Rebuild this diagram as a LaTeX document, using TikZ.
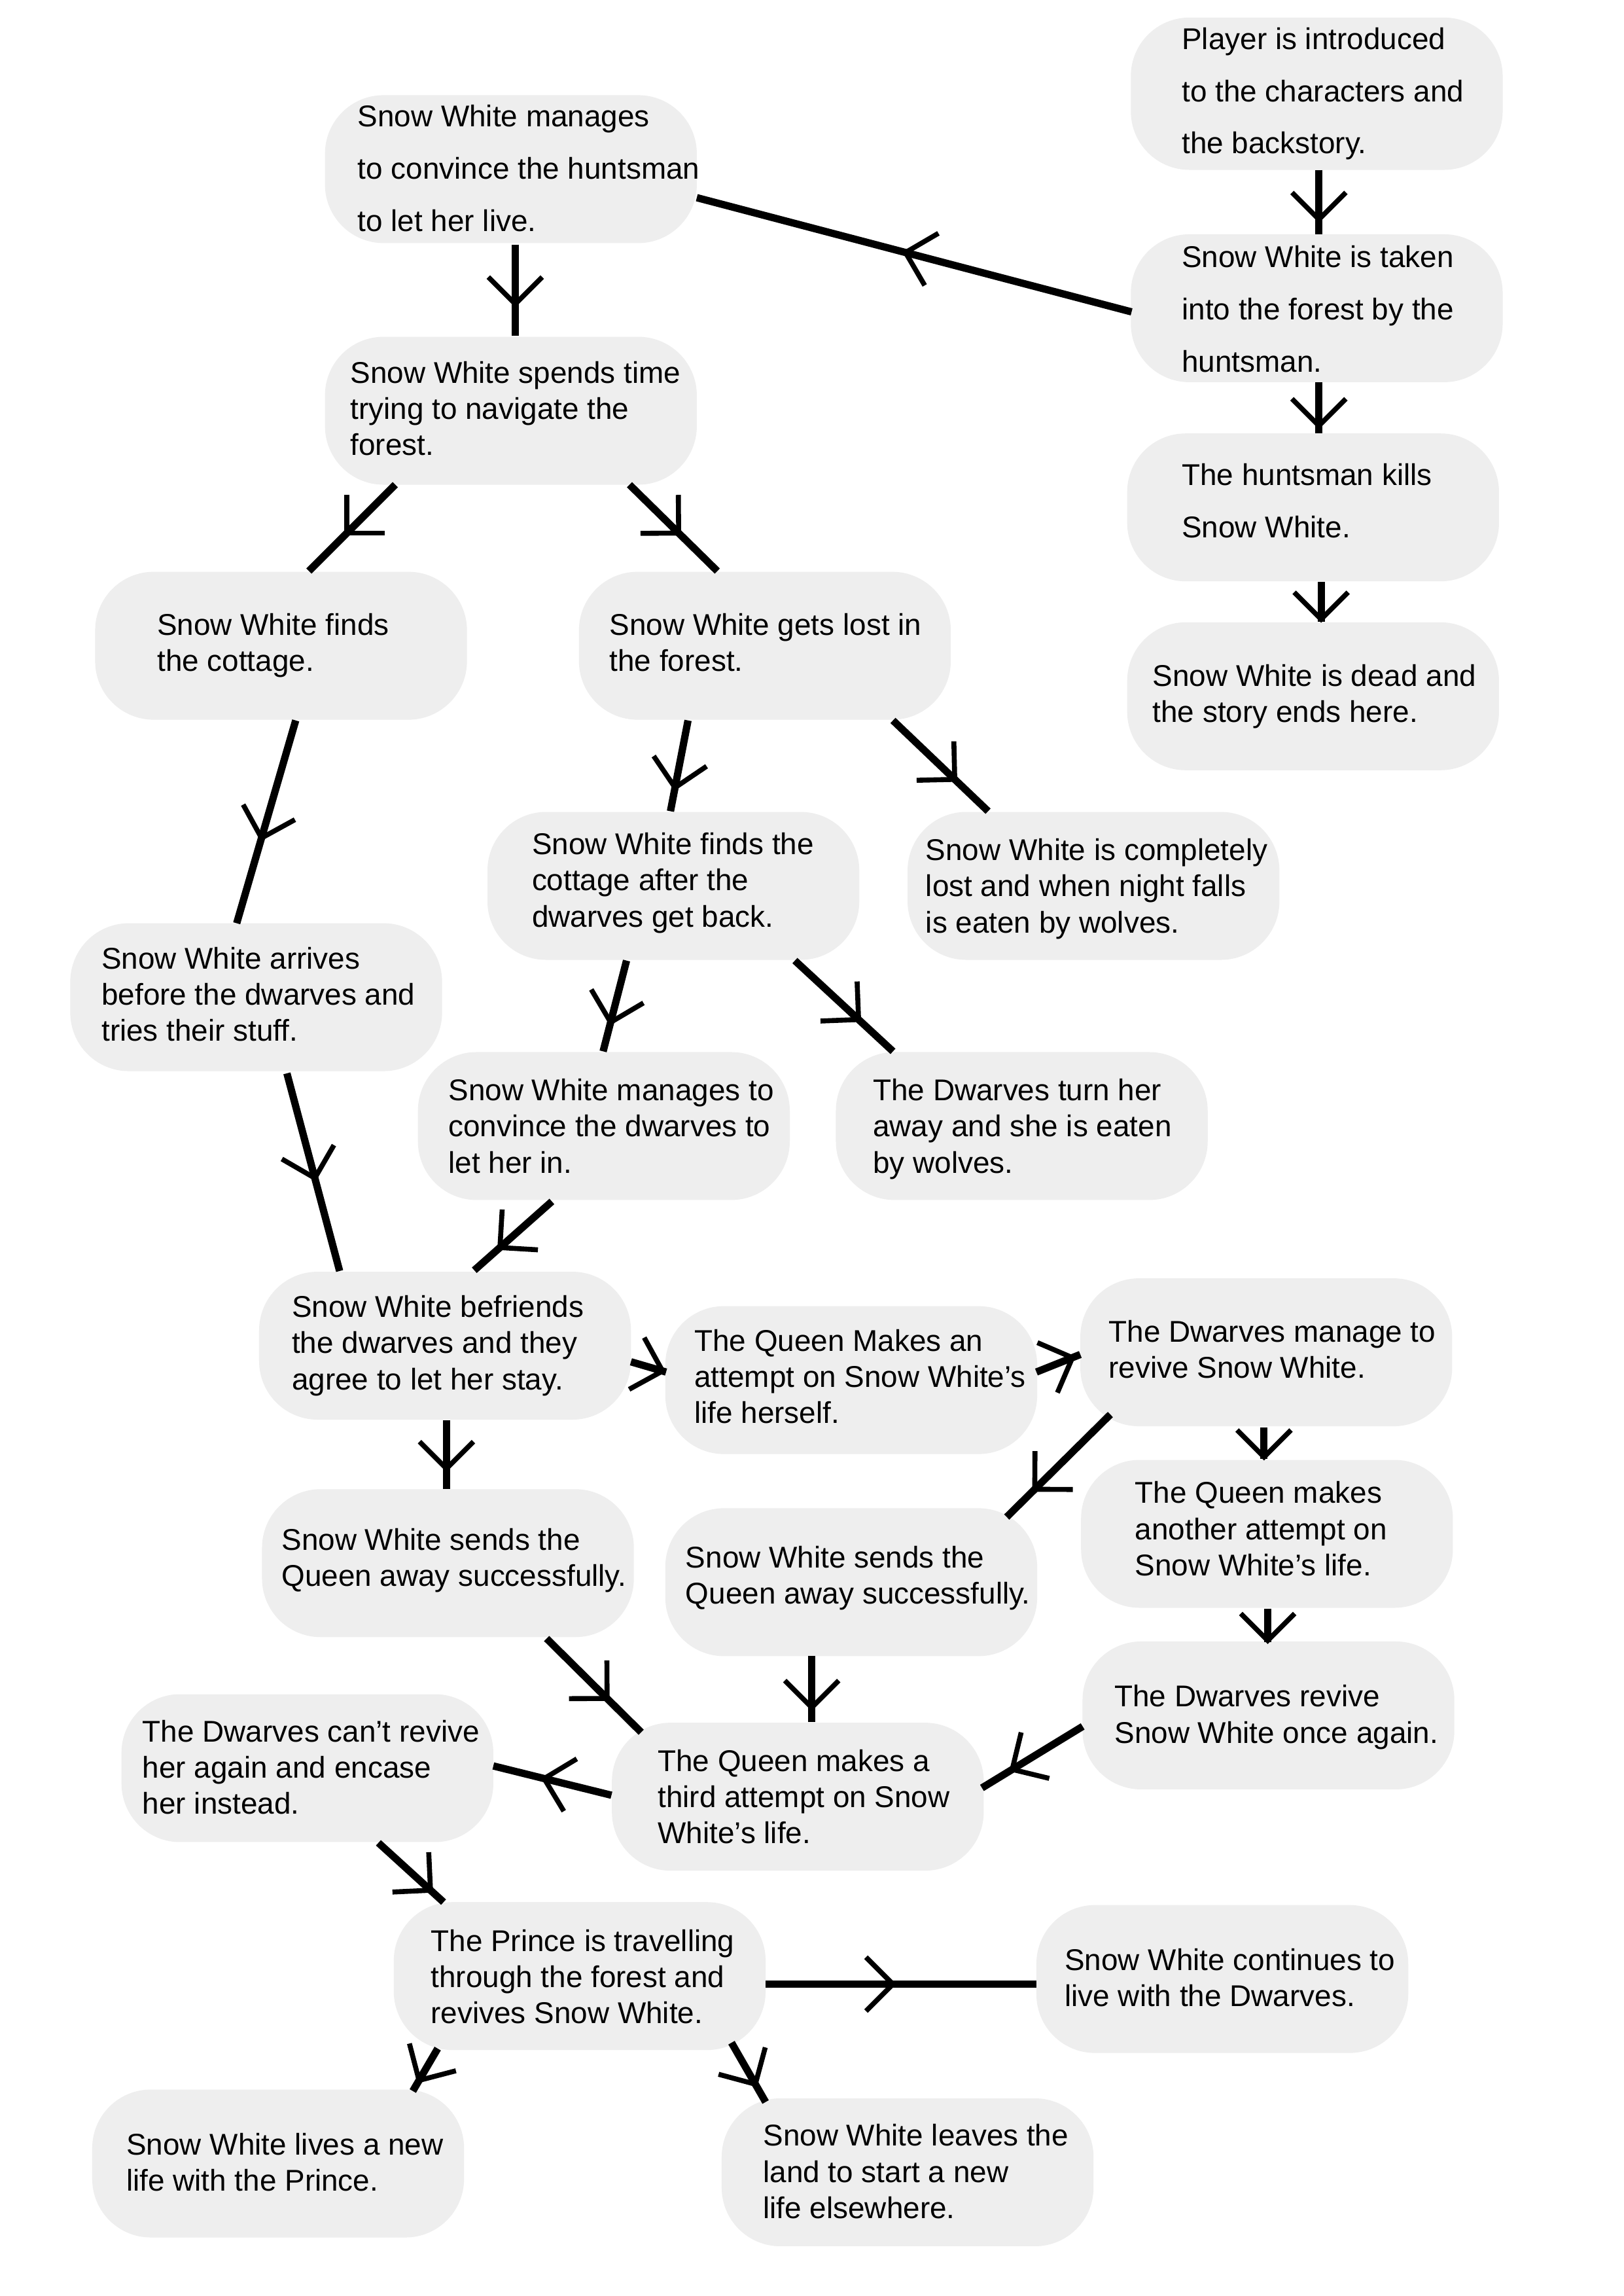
\documentclass[tikz,border=0pt]{standalone}
\usepackage{fontspec}
\setmainfont{Liberation Sans}
\usetikzlibrary{calc,decorations.markings}
\definecolor{boxgray}{HTML}{EEEEEE}
\tikzset{
  box/.style={rectangle, rounded corners=20pt, fill=boxgray, minimum width=127pt, minimum height=50.5pt, inner sep=0pt},
  txt/.style={anchor=north west, align=left, inner sep=0pt, text=black, font=\fontsize{10.25pt}{12.35pt}\selectfont},
  txtwide/.style={txt, font=\fontsize{10.25pt}{17.85pt}\selectfont},
  conn/.style={line width=2.5pt, line cap=butt, postaction={decorate}, decoration={markings, mark=at position #1 with {\draw[line width=1.7pt, line cap=butt, line join=miter] (-9.2pt,9.2pt) -- (0pt,0pt) -- (-9.2pt,-9.2pt);}}},
}
\begin{document}
\begin{tikzpicture}[x=0.5pt,y=-0.5pt]
\fill[white] (0,0) rectangle (1109,1568);
\useasboundingbox (0,0) rectangle (1109,1568);
% boxes
\node[box, minimum height=52pt] (b1) at (899.5,64) {};
\node[box] (b2) at (899.5,210.5) {};
\node[box] (b3) at (897,346.5) {};
\node[box] (b4) at (897,475.5) {};
\node[box] (b5) at (349,115.5) {};
\node[box] (b6) at (349,280.5) {};
\node[box] (b7) at (192,441) {};
\node[box] (b8) at (522.5,441) {};
\node[box] (b9) at (460,605) {};
\node[box] (b10) at (747,605) {};
\node[box] (b11) at (175,681) {};
\node[box] (b12) at (412.5,769) {};
\node[box] (b13) at (698,769) {};
\node[box] (b14) at (304,919) {};
\node[box] (b15) at (581.5,942.5) {};
\node[box] (b16) at (865,923.5) {};
\node[box] (b17) at (306,1067.5) {};
\node[box] (b18) at (581.5,1080.5) {};
\node[box] (b19) at (865.5,1047.5) {};
\node[box] (b20) at (866.5,1171.5) {};
\node[box] (b21) at (545,1227) {};
\node[box] (b22) at (210,1207.5) {};
\node[box] (b23) at (396,1349.5) {};
\node[box] (b24) at (835,1351.5) {};
\node[box] (b25) at (190,1477.5) {};
\node[box] (b26) at (620,1483.5) {};
% texts
\node[txtwide] (t1) at (807,16) {\rule{0pt}{8.6pt}Player is introduced\\to the characters and\\the backstory.};
\node[txtwide] (t2) at (807,165) {\rule{0pt}{8.6pt}Snow White is taken\\into the forest by the\\huntsman.};
\node[txtwide] (t3) at (807,314) {\rule{0pt}{8.6pt}The huntsman kills\\Snow White.};
\node[txt] (t4) at (787,451) {\rule{0pt}{8.6pt}Snow White is dead and\\the story ends here.};
\node[txtwide] (t5) at (244,69) {\rule{0pt}{8.6pt}Snow White manages\\to convince the huntsman\\to let her live.};
\node[txt] (t6) at (239,244) {\rule{0pt}{8.6pt}Snow White spends time\\trying to navigate the\\forest.};
\node[txt] (t7) at (107,416) {\rule{0pt}{8.6pt}Snow White finds\\the cottage.};
\node[txt] (t8) at (416,416) {\rule{0pt}{8.6pt}Snow White gets lost in\\the forest.};
\node[txt] (t9) at (363,566) {\rule{0pt}{8.6pt}Snow White finds the\\cottage after the\\dwarves get back.};
\node[txt] (t10) at (632,570) {\rule{0pt}{8.6pt}Snow White is completely\\lost and when night falls\\is eaten by wolves.};
\node[txt] (t11) at (69,644) {\rule{0pt}{8.6pt}Snow White arrives\\before the dwarves and\\tries their stuff.};
\node[txt] (t12) at (306,734) {\rule{0pt}{8.6pt}Snow White manages to\\convince the dwarves to\\let her in.};
\node[txt] (t13) at (596,734) {\rule{0pt}{8.6pt}The Dwarves turn her\\away and she is eaten\\by wolves.};
\node[txt] (t14) at (199,882) {\rule{0pt}{8.6pt}Snow White befriends\\the dwarves and they\\agree to let her stay.};
\node[txt] (t15) at (474,905) {\rule{0pt}{8.6pt}The Queen Makes an\\attempt on Snow White’s\\life herself.};
\node[txt] (t16) at (757,899) {\rule{0pt}{8.6pt}The Dwarves manage to\\revive Snow White.};
\node[txt] (t17) at (192,1041) {\rule{0pt}{8.6pt}Snow White sends the\\Queen away successfully.};
\node[txt] (t18) at (468,1053) {\rule{0pt}{8.6pt}Snow White sends the\\Queen away successfully.};
\node[txt] (t19) at (775,1009) {\rule{0pt}{8.6pt}The Queen makes\\another attempt on\\Snow White’s life.};
\node[txt] (t20) at (761,1148) {\rule{0pt}{8.6pt}The Dwarves revive\\Snow White once again.};
\node[txt] (t21) at (449,1192) {\rule{0pt}{8.6pt}The Queen makes a\\third attempt on Snow\\White’s life.};
\node[txt] (t22) at (97,1172) {\rule{0pt}{8.6pt}The Dwarves can’t revive\\her again and encase\\her instead.};
\node[txt] (t23) at (294,1315) {\rule{0pt}{8.6pt}The Prince is travelling\\through the forest and\\revives Snow White.};
\node[txt] (t24) at (727,1328) {\rule{0pt}{8.6pt}Snow White continues to\\live with the Dwarves.};
\node[txt] (t25) at (86,1454) {\rule{0pt}{8.6pt}Snow White lives a new\\life with the Prince.};
\node[txt] (t26) at (521,1448) {\rule{0pt}{8.6pt}Snow White leaves the\\land to start a new\\life elsewhere.};
% connectors
\draw[conn=0.77] ($(b1)+(1.5,52)$) -- ($(b2)+(1.5,-50.5)$);
\draw[conn=0.52] ($(b2)+(-126.5,2.5)$) -- ($(b5)+(127,19.5)$);
\draw[conn=0.85] ($(b2)+(1.5,50.5)$) -- ($(b3)+(4,-50.5)$);
\draw[conn=0.93] ($(b3)+(5.5,51)$) -- ($(b4)+(5.5,-50.7)$);
\draw[conn=0.65] ($(b5)+(3,51.5)$) -- ($(b6)+(3,-51)$);
\draw[conn=0.56] ($(b6)+(-79,50.5)$) -- ($(b7)+(19,-51)$);
\draw[conn=0.56] ($(b6)+(81,50.5)$) -- ($(b8)+(-32.5,-51)$);
\draw[conn=0.58] ($(b7)+(10,51)$) -- ($(b11)+(-13.3,-50.5)$);
\draw[conn=0.74] ($(b8)+(-52.5,51)$) -- ($(b9)+(-2,-51)$);
\draw[conn=0.65] ($(b8)+(87.5,51)$) -- ($(b10)+(-72,-51)$);
\draw[conn=0.68] ($(b9)+(-32,51)$) -- ($(b12)+(-0.5,-51)$);
\draw[conn=0.65] ($(b9)+(83,51)$) -- ($(b13)+(-88,-51)$);
\draw[conn=0.53] ($(b11)+(21,52)$) -- ($(b14)+(-72,-51)$);
\draw[conn=0.67] ($(b12)+(-35.5,51.5)$) -- ($(b14)+(20,-51.5)$);
\draw[conn=0.9] ($(b14)+(127,11)$) -- ($(b15)+(-126.5,-5.5)$);
\draw[conn=0.82] ($(b15)+(126.5,-5.5)$) -- ($(b16)+(-127,1.5)$);
\draw[conn=0.73] ($(b16)+(-106.5,42.5)$) -- ($(b18)+(106.2,-44.5)$);
\draw[conn=0.7] ($(b14)+(1,51)$) -- ($(b17)+(-1,-50.5)$);
\draw[conn=0.93] ($(b16)+(-1.5,51.5)$) -- ($(b19)+(-2,-51)$);
\draw[conn=0.95] ($(b19)+(0.5,51)$) -- ($(b20)+(-0.5,-50)$);
\draw[conn=0.64] ($(b17)+(67.4,51.5)$) -- ($(b21)+(-107,-44)$);
\draw[conn=0.78] ($(b18)+(-27,50.5)$) -- ($(b21)+(9.5,-51)$);
\draw[conn=0.7] ($(b20)+(-126.9,7.5)$) -- ($(b21)+(125.8,-6)$);
\draw[conn=0.57] ($(b21)+(-127.3,-1)$) -- ($(b22)+(127,-1.5)$);
\draw[conn=0.8] ($(b22)+(48.5,51)$) -- ($(b23)+(-93,-50.5)$);
\draw[conn=0.47] ($(b23)+(127,5.5)$) -- ($(b24)+(-127,3.5)$);
\draw[conn=0.75] ($(b23)+(-97,49.5)$) -- ($(b25)+(92,-49.5)$);
\draw[conn=0.7] ($(b23)+(103.7,45.5)$) -- ($(b26)+(-97,-48)$);
\end{tikzpicture}
\end{document}
